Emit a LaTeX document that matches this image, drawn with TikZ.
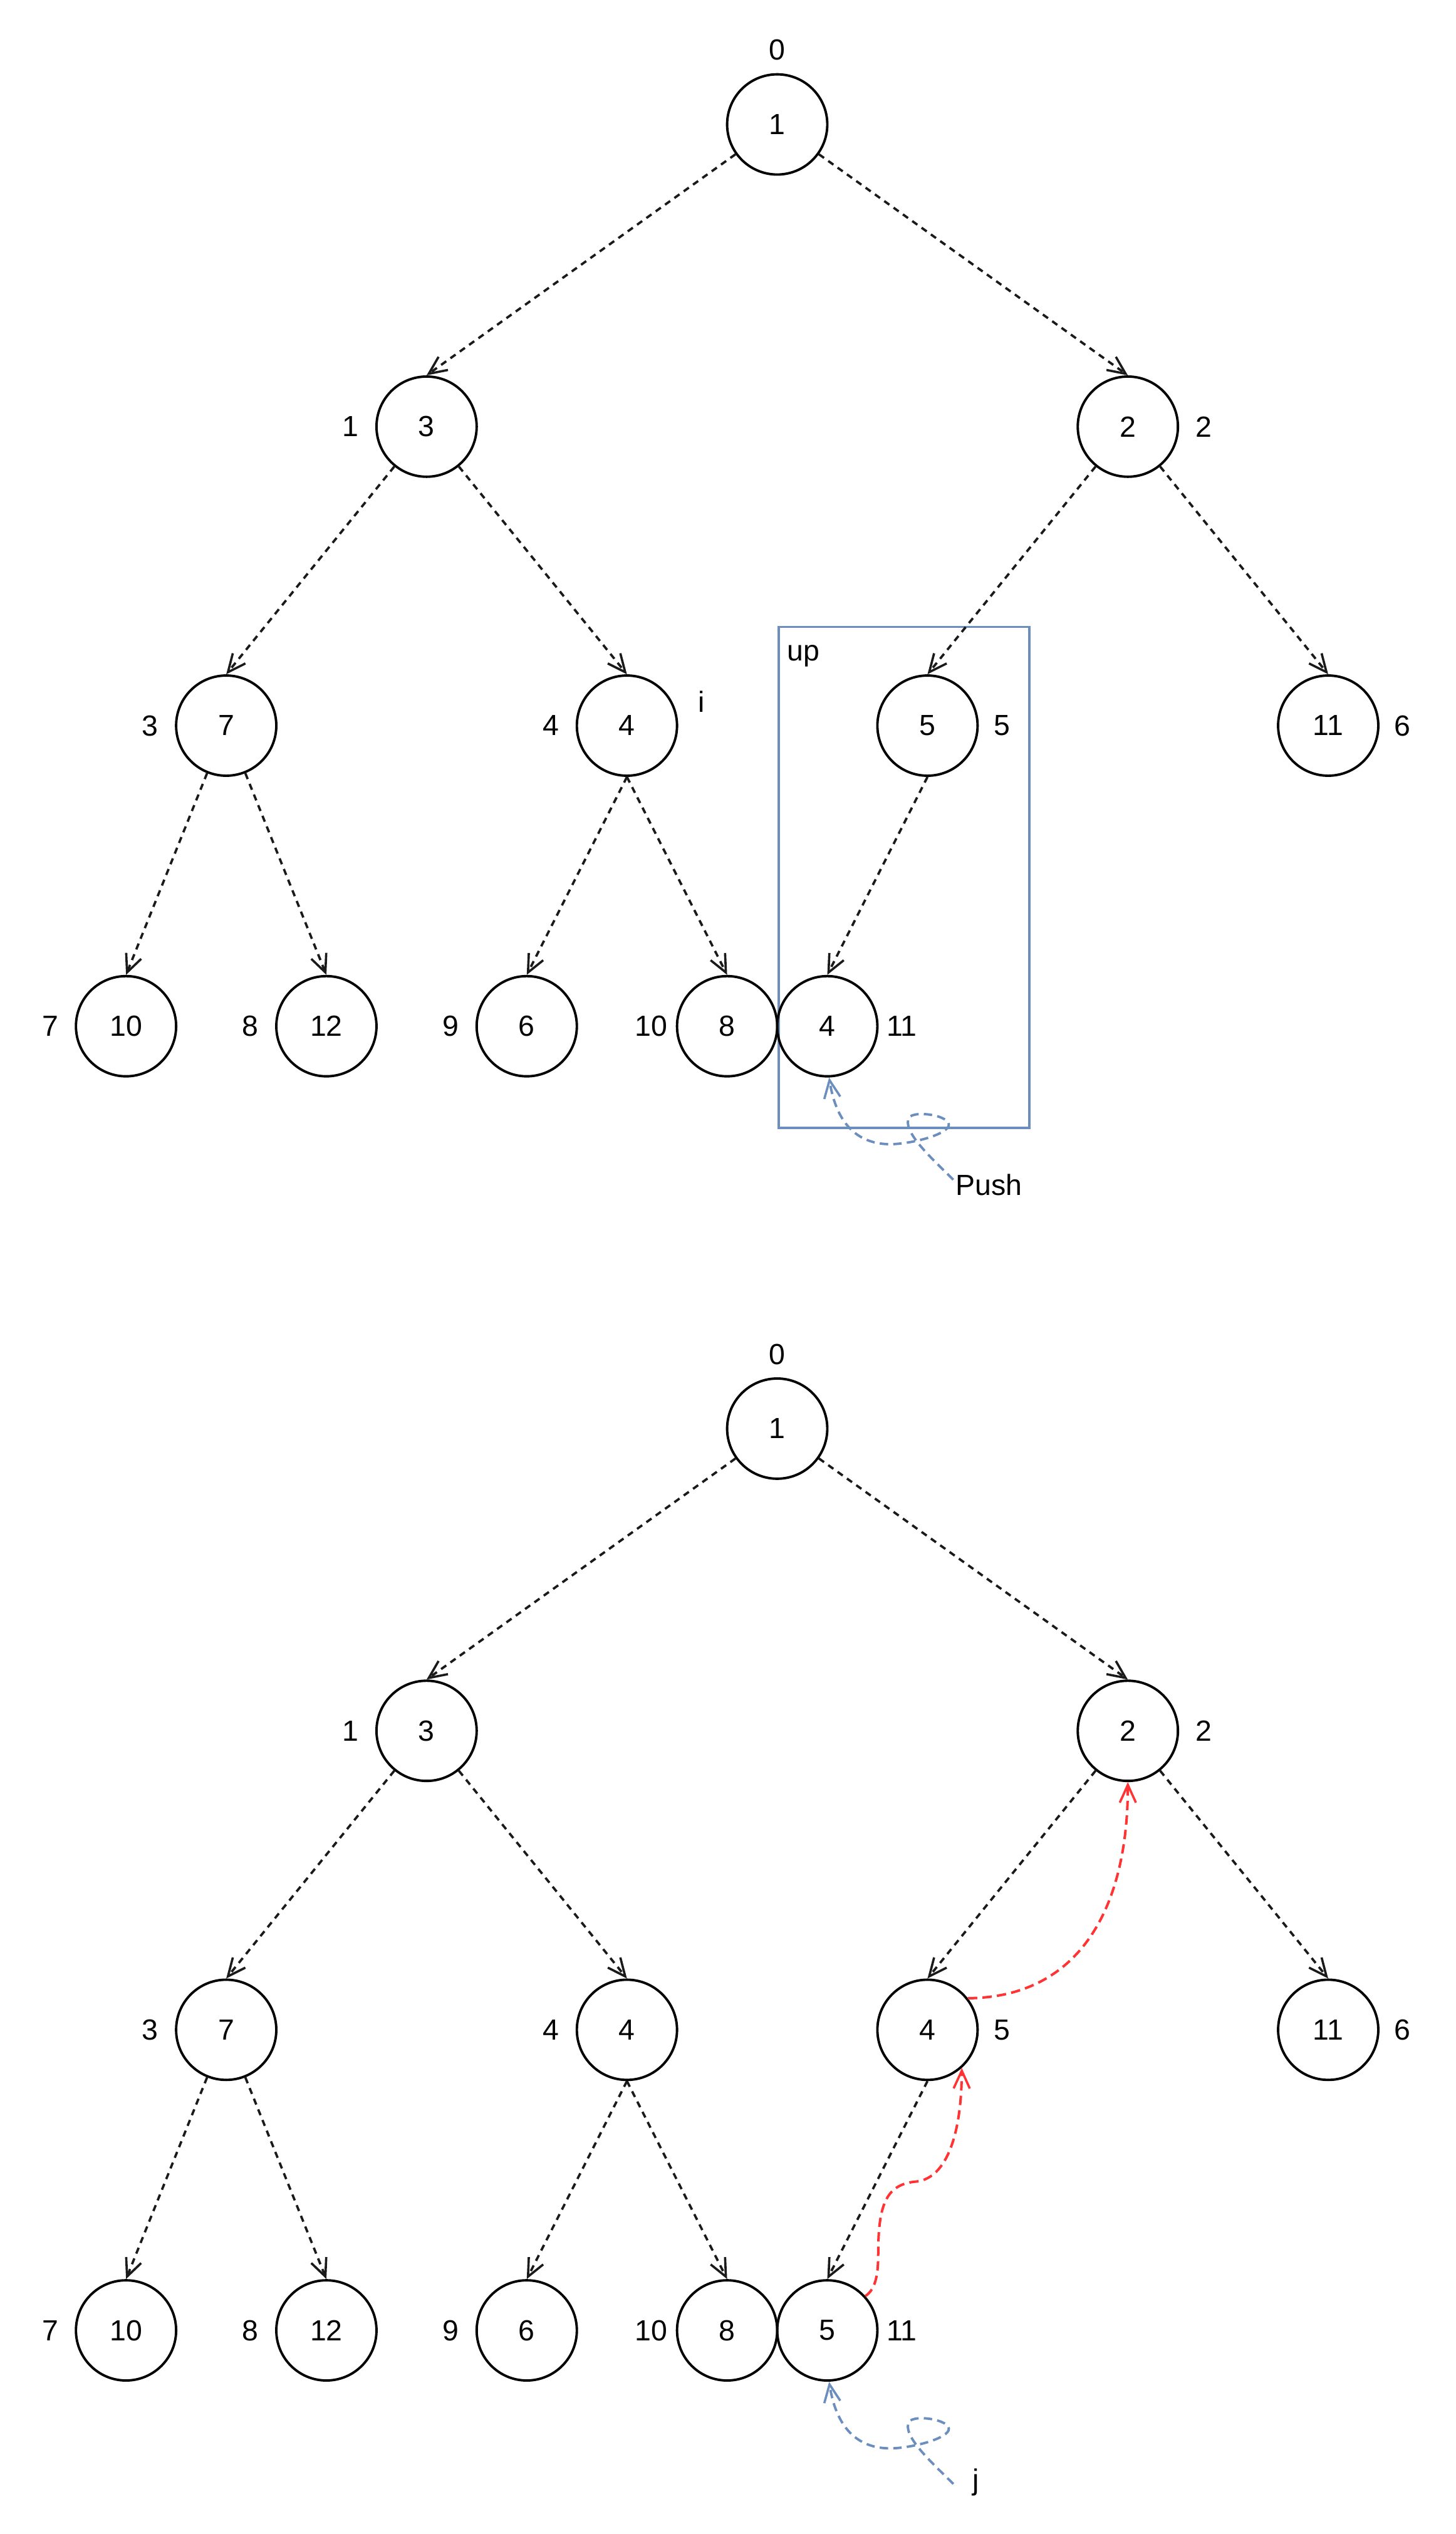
\documentclass[tikz,border=0pt]{standalone}
\usepackage{fontspec}
\setmainfont{Liberation Sans}
\usetikzlibrary{arrows.meta}
\definecolor{dblue}{HTML}{6C8EBF}
\definecolor{dred}{HTML}{FF3333}
\definecolor{dblack}{HTML}{1A1A1A}
\tikzset{
  hn/.style={circle,draw=black,line width=1.5pt,minimum size=62pt,inner sep=0pt,font=\fontsize{18}{21}\selectfont},
  lbl/.style={inner sep=0pt,font=\fontsize{18}{21}\selectfont},
  openarrow/.style={-{Straight Barb[length=11pt,width=10pt,line width=1.4pt]}},
  tedge/.style={openarrow,draw=dblack,line width=1.45pt,dash pattern=on 3.9pt off 3.2pt},
  redge/.style={openarrow,draw=dred,line width=1.55pt,dash pattern=on 5.8pt off 3.2pt},
  bedge/.style={openarrow,draw=dblue,line width=1.5pt,dash pattern=on 5.2pt off 3.2pt},
}
\newcommand\heaptree[3]{%
  \node[hn] (#1n0) at (481,77) {1};
  \node[hn] (#1n1) at (264,264) {3};
  \node[hn] (#1n2) at (698,264) {2};
  \node[hn] (#1n3) at (140,449) {7};
  \node[hn] (#1n4) at (388,449) {4};
  \node[hn] (#1n5) at (574,449) {#2};
  \node[hn] (#1n6) at (822,449) {11};
  \node[hn] (#1n7) at (78,635) {10};
  \node[hn] (#1n8) at (202,635) {12};
  \node[hn] (#1n9) at (326,635) {6};
  \node[hn] (#1n10) at (450,635) {8};
  \node[hn] (#1n11) at (512,635) {#3};
  \node[lbl] (#1i0) at (481,31) {0};
  \node[lbl] (#1i1) at (217,264) {1};
  \node[lbl] (#1i2) at (745,264) {2};
  \node[lbl] (#1i3) at (93,449) {3};
  \node[lbl] (#1i4) at (341,449) {4};
  \node[lbl] (#1i5) at (620,449) {5};
  \node[lbl] (#1i6) at (868,449) {6};
  \node[lbl] (#1i7) at (31,635) {7};
  \node[lbl] (#1i8) at (155,635) {8};
  \node[lbl] (#1i9) at (279,635) {9};
  \node[lbl] (#1i10) at (403,635) {10};
  \node[lbl] (#1i11) at (558,635) {11};
  \draw[tedge] (#1n0) -- (#1n1.north);
  \draw[tedge] (#1n0) -- (#1n2.north);
  \draw[tedge] (#1n1) -- (#1n3.north);
  \draw[tedge] (#1n1) -- (#1n4.north);
  \draw[tedge] (#1n2) -- (#1n5.north);
  \draw[tedge] (#1n2) -- (#1n6.north);
  \draw[tedge] (#1n3) -- (#1n7.north);
  \draw[tedge] (#1n3) -- (#1n8.north);
  \draw[tedge] (#1n4.south) -- (#1n9.north);
  \draw[tedge] (#1n4.south) -- (#1n10.north);
  \draw[tedge] (#1n5.south) -- (#1n11.north);
}
\newcommand\curlpath[2]{%
  \draw[bedge] (#1) .. controls (578,718) and (560,702) .. (562,693)
    .. controls (562,686) and (590,690) .. (587,697)
    .. controls (584,703) and (562,708) .. (551,708)
    .. controls (533,708) and (518,698) .. (#2);
}
\begin{document}
\begin{tikzpicture}[x=1pt,y=-1pt]
\useasboundingbox (0,0) rectangle (901,1568);
% top tree
\node[draw=dblue,line width=1.4pt,minimum width=155pt,minimum height=310pt,inner sep=0pt] (upbox) at (559.5,543) {};
\node[lbl,anchor=base west] (uplbl) at (487,409) {up};
\heaptree{t}{5}{4}
\node[lbl] (ilbl) at (434,434) {i};
\node[lbl] (push) at (612,733) {Push};
\coordinate (pushstart) at (590,730);
\curlpath{pushstart}{tn11.-88}
% bottom tree
\begin{scope}[shift={(0,807)}]
\heaptree{b}{4}{5}
\node[lbl] (jlbl) at (604,729) {j};
\coordinate (jstart) at (590,730);
\curlpath{jstart}{bn11.-88}
\end{scope}
\draw[redge] (bn11.42) .. controls (541,1417) and (543.5,1410) .. (543.5,1395)
  .. controls (543.5,1365) and (548,1352) .. (566,1350)
  .. controls (584,1349) and (595,1325) .. (bn5.-48);
\draw[redge] (bn5.38) .. controls (665,1236) and (698,1185) .. (bn2.south);
\end{tikzpicture}
\end{document}
